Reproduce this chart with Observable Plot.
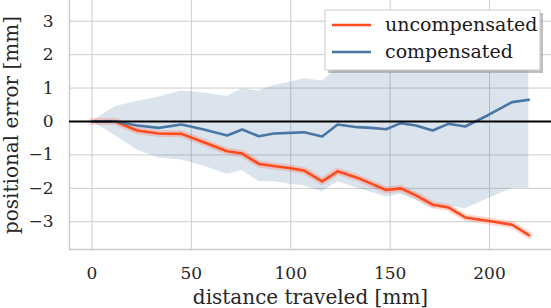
<!DOCTYPE html>
<html>
<head>
<meta charset="utf-8">
<script src="https://cdn.jsdelivr.net/npm/d3@7"></script>
<script src="https://cdn.jsdelivr.net/npm/@observablehq/plot@0.6"></script>
<style>
  html, body { margin: 0; padding: 0; background: #fff; }
  #chart { position: relative; width: 551px; height: 308px; }
  #chart svg { font-family: "DejaVu Serif", serif !important; overflow: visible; }
  #chart svg text, #chart svg g { font-family: "DejaVu Serif", serif !important; font-variant: normal !important; }
</style>
</head>
<body>
<div id="chart"></div>
<script>
// distance traveled [mm]
const dist = [0, 11.8, 22.7, 33.6, 45.0, 56.3, 68.0, 75.6, 84.0, 91.5, 99.9, 106.8, 115.8, 123.6, 133.4, 140.5, 148.0, 155.4, 163.0, 171.4, 179.3, 187.8, 199.0, 211.4, 219.8];
// positional error [mm]
const uncompensated = [0, 0, -0.27, -0.36, -0.37, -0.62, -0.89, -0.96, -1.27, -1.33, -1.40, -1.47, -1.79, -1.49, -1.68, -1.86, -2.05, -2.00, -2.21, -2.49, -2.57, -2.87, -2.97, -3.09, -3.40];
const compensated = [0, 0, -0.12, -0.19, -0.09, -0.24, -0.42, -0.24, -0.44, -0.36, -0.34, -0.32, -0.45, -0.09, -0.17, -0.19, -0.23, -0.05, -0.12, -0.27, -0.07, -0.15, 0.18, 0.58, 0.65];
const bandLower = [0, -0.43, -0.85, -1.09, -1.15, -1.33, -1.58, -1.47, -1.80, -1.80, -1.88, -1.92, -2.10, -1.80, -2.00, -2.12, -2.26, -2.18, -2.36, -2.60, -2.53, -2.61, -2.32, -2.00, -2.00];
const bandUpper = [0, 0.45, 0.60, 0.73, 0.91, 0.85, 0.75, 0.98, 0.91, 1.08, 1.18, 1.28, 1.21, 1.58, 1.66, 1.74, 1.80, 2.08, 2.12, 2.06, 2.39, 2.31, 2.68, 3.16, 3.30];

const xTicks = [0, 50, 100, 150, 200];
const yTicks = [-3, -2, -1, 0, 1, 2, 3];
const xDomain = [-11.3, 231.2];
const yDomain = [-3.83, 3.62];

const seriesNames = ["uncompensated", "compensated"];
const colors = ["#ff4a1f", "#4a76a3"];

const rows = dist.map((d, i) => ({
  d, u: uncompensated[i], c: compensated[i], lo: bandLower[i], hi: bandUpper[i]
}));

const font = "DejaVu Serif";
const gridColor = "#cccccc";
const textColor = "#262626";
const minus = d => (d < 0 ? "\u2212" + Math.abs(d) : String(d));

const plot = Plot.plot({
  width: 551,
  height: 308,
  marginLeft: 69,
  marginRight: 0,
  marginTop: 0,
  marginBottom: 59,
  style: "background: #fff; overflow: visible; font-family: 'DejaVu Serif', serif; color: #262626;",
  x: { domain: xDomain },
  y: { domain: yDomain },
  marks: [
    Plot.gridX(xTicks, { stroke: gridColor, strokeOpacity: 1, strokeWidth: 1 }),
    Plot.gridY(yTicks, { stroke: gridColor, strokeOpacity: 1, strokeWidth: 1 }),
    Plot.ruleX([xDomain[0]], { stroke: gridColor, strokeWidth: 1.5 }),
    Plot.ruleY([yDomain[0]], { stroke: gridColor, strokeWidth: 1.5 }),
    Plot.areaY(rows, { x: "d", y1: "lo", y2: "hi", fill: colors[1], fillOpacity: 0.2, curve: "linear" }),
    Plot.line(rows, { x: "d", y: "u", stroke: colors[0], strokeWidth: 7, strokeOpacity: 0.22 }),
    Plot.line(rows, { x: "d", y: "u", stroke: colors[0], strokeWidth: 2.6 }),
    Plot.line(rows, { x: "d", y: "c", stroke: colors[1], strokeWidth: 2.6 }),
    Plot.ruleY([0], { stroke: "#000", strokeWidth: 2 }),
    Plot.axisX({ ticks: xTicks, tickSize: 0, tickPadding: 17, label: null, fontSize: 17, fontFamily: font, fontVariant: "normal", fill: textColor, tickFormat: minus }),
    Plot.axisY({ ticks: yTicks, tickSize: 0, tickPadding: 16, label: null, fontSize: 17, fontFamily: font, fontVariant: "normal", fill: textColor, tickFormat: minus }),
    Plot.text(["distance traveled [mm]"], { frameAnchor: "bottom", textAnchor: "middle", lineAnchor: "middle", dy: 48, fontSize: 20, fontFamily: font, fill: textColor }),
    Plot.text(["positional error [mm]"], { frameAnchor: "left", textAnchor: "middle", lineAnchor: "middle", dx: -58, rotate: -90, fontSize: 20, fontFamily: font, fill: textColor })
  ]
});

document.getElementById("chart").appendChild(plot);

// legend drawn inside the plot area (upper right)
const svg = d3.select(plot);
const lg = svg.append("g").attr("font-family", font).attr("font-size", 19).attr("text-anchor", "start");
const bx = 325, by = 10, bw = 215, bh = 60;
lg.append("rect").attr("x", bx + 3).attr("y", by + 3).attr("width", bw).attr("height", bh).attr("fill", "#8c8c8c").attr("fill-opacity", 0.55);
lg.append("rect").attr("x", bx).attr("y", by).attr("width", bw).attr("height", bh).attr("fill", "#fff").attr("stroke", "#cccccc").attr("stroke-width", 1);
seriesNames.forEach((name, i) => {
  const yy = by + 15 + i * 27;
  lg.append("line").attr("x1", bx + 7).attr("x2", bx + 46).attr("y1", yy).attr("y2", yy).attr("stroke", colors[i]).attr("stroke-width", 2.6);
  lg.append("text").attr("x", bx + 60).attr("y", yy).attr("dy", "0.32em").attr("text-anchor", "start").attr("fill", "#1a1a1a").text(name);
});
</script>
</body>
</html>
